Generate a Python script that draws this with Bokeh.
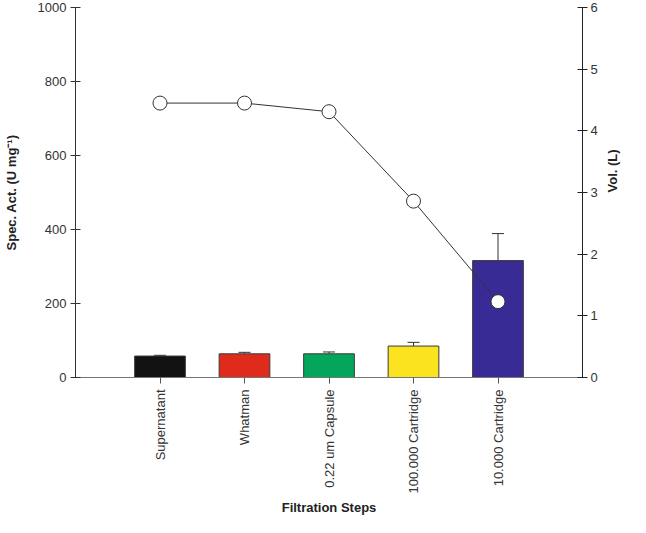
import math
from bokeh.plotting import figure
from bokeh.models import Range1d, LinearAxis, FixedTicker, Whisker, TeeHead, ColumnDataSource
from bokeh.embed import file_html
from bokeh.resources import INLINE

steps = ["Supernatant", "Whatman", "0.22 um Capsule", "100.000 Cartridge", "10.000 Cartridge"]
spec_act = [58, 64, 64, 85, 316]
spec_err = [2, 4, 5, 10, 73]
volume = [4.45, 4.45, 4.31, 2.86, 1.23]
bar_colors = ["#121212", "#de2b1c", "#03a65a", "#fbe41f", "#392b95"]
vol_ticks = [0, 1, 2, 3, 4, 5, 6]
act_ticks = [0, 200, 400, 600, 800, 1000]

idx = list(range(len(steps)))
upper = [a + e for a, e in zip(spec_act, spec_err)]
src = ColumnDataSource(dict(x=idx, top=spec_act, upper=upper, vol=volume, color=bar_colors))

FONT = "Liberation Sans"

p = figure(width=630, height=517, output_backend="svg", toolbar_location=None,
           x_range=Range1d(-1, 5), y_range=Range1d(0, 1000),
           min_border_top=7, min_border_left=20, min_border_right=0, min_border_bottom=0)
p.extra_y_ranges = {"vol": Range1d(0, 6)}
p.outline_line_color = None
p.xgrid.visible = False
p.ygrid.visible = False

p.vbar(x="x", top="top", width=0.6, fill_color="color", line_color="#3a3a3a", line_width=1, source=src)
w = Whisker(base="x", lower="top", upper="upper", source=src, line_color="#333333", line_width=1,
            upper_head=TeeHead(size=12, line_color="#333333", line_width=1), lower_head=None)
p.add_layout(w)

p.line(x="x", y="vol", y_range_name="vol", source=src, line_color="#333333", line_width=1)
p.scatter(x="x", y="vol", y_range_name="vol", source=src, size=14, fill_color="white",
          line_color="#333333", line_width=1)

# x axis
xa = p.xaxis[0]
xa.ticker = FixedTicker(ticks=idx)
xa.major_label_overrides = {i: s for i, s in zip(idx, steps)}
xa.major_label_orientation = math.pi / 2
xa.minor_tick_line_color = None
xa.major_tick_in = 0
xa.major_tick_out = 6
xa.axis_line_color = "#777777"
xa.major_tick_line_color = "#555555"
xa.axis_label = "Filtration Steps"
xa.axis_label_text_font = FONT
xa.axis_label_text_font_style = "bold"
xa.axis_label_text_font_size = "13px"
xa.axis_label_text_color = "#222222"
xa.major_label_text_font = FONT
xa.major_label_text_font_size = "13px"
xa.major_label_text_color = "#333333"
xa.major_label_standoff = 6
xa.axis_label_standoff = 3

# left axis
ya = p.yaxis[0]
ya.ticker = FixedTicker(ticks=act_ticks)
ya.minor_tick_line_color = None
ya.major_tick_in = 5
ya.major_tick_out = 5
ya.axis_line_color = "#333333"
ya.major_tick_line_color = "#333333"
ya.axis_label = "Spec. Act. (U mg⁻¹)"
ya.axis_label_text_font = FONT
ya.axis_label_text_font_style = "bold"
ya.axis_label_text_font_size = "13px"
ya.axis_label_text_color = "#222222"
ya.major_label_text_font = FONT
ya.major_label_text_font_size = "13px"
ya.major_label_text_color = "#333333"
ya.major_label_standoff = 4
ya.axis_label_standoff = 16

# right axis
ra = LinearAxis(y_range_name="vol", ticker=FixedTicker(ticks=vol_ticks))
ra.minor_tick_line_color = None
ra.major_tick_in = 5
ra.major_tick_out = 5
ra.axis_line_color = "#222222"
ra.major_tick_line_color = "#222222"
ra.major_label_text_font = FONT
ra.major_label_text_font_size = "13px"
ra.major_label_text_color = "#333333"
ra.major_label_standoff = 3
p.add_layout(ra, "right")

# right axis title (a bottom-to-top label, as in the original)
rt = LinearAxis(y_range_name="vol", ticker=FixedTicker(ticks=[3]),
                major_label_overrides={3: "Vol. (L)"})
rt.major_label_orientation = math.pi / 2
rt.axis_line_color = None
rt.major_tick_line_color = None
rt.minor_tick_line_color = None
rt.major_tick_in = 0
rt.major_tick_out = 0
rt.major_label_standoff = 12
rt.major_label_text_font = FONT
rt.major_label_text_font_size = "13px"
rt.major_label_text_font_style = "bold"
rt.major_label_text_color = "#222222"
p.add_layout(rt, "right")

open("out.html", "w").write(file_html(p, INLINE))
